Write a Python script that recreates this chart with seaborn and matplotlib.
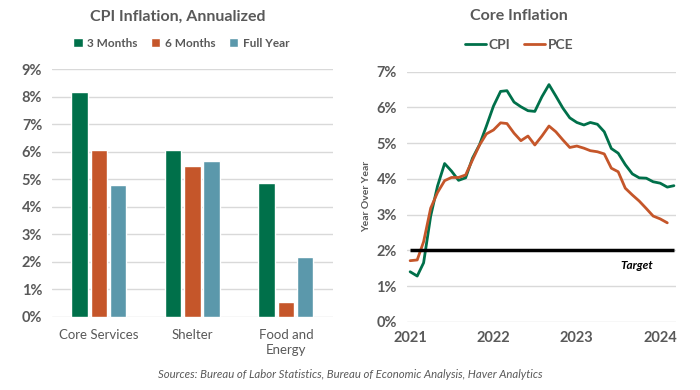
import seaborn as sns
import pandas as pd
import matplotlib.pyplot as plt
from matplotlib.patches import Patch
from matplotlib.lines import Line2D

# Данные: левый график (CPI, annualized)
categories = ['Core Services', 'Shelter', 'Food and\nEnergy']
periods = ['3 Months', '6 Months', 'Full Year']
three_months = [8.16, 6.06, 4.85]
six_months = [6.06, 5.48, 0.53]
full_year = [4.79, 5.64, 2.18]

# Данные: правый график (Core inflation, YoY)
cpi = [1.40, 1.28, 1.65, 2.96, 3.80, 4.43, 4.22, 3.96, 4.03, 4.58, 4.96, 5.48,
       6.04, 6.45, 6.47, 6.15, 6.02, 5.91, 5.89, 6.30, 6.64, 6.32, 5.98, 5.71,
       5.58, 5.51, 5.58, 5.53, 5.32, 4.85, 4.72, 4.40, 4.14, 4.03, 4.02, 3.92,
       3.88, 3.77, 3.81]
pce = [1.71, 1.73, 2.24, 3.18, 3.62, 3.95, 4.04, 4.04, 4.11, 4.53, 4.95, 5.26,
       5.37, 5.57, 5.55, 5.28, 5.07, 5.20, 4.95, 5.20, 5.48, 5.32, 5.09, 4.88,
       4.92, 4.86, 4.79, 4.76, 4.70, 4.30, 4.20, 3.74, 3.55, 3.38, 3.17, 2.96,
       2.88, 2.77]
cpi_dates = pd.date_range('2021-01-01', periods=len(cpi), freq='MS')
pce_dates = pd.date_range('2021-01-01', periods=len(pce), freq='MS')
year_ticks = ['2021', '2022', '2023', '2024']
target = 2.0

colors = ['#00704A', '#C5562A', '#5B98AB']
gray = '#595959'

sns.set_style('white')
plt.rcParams['font.family'] = ['Lato', 'DejaVu Sans']

fig = plt.figure(figsize=(7, 3.9), dpi=100)
ax1 = fig.add_axes([0.0743, 0.188, 0.401, 0.635])
ax2 = fig.add_axes([0.581, 0.175, 0.385, 0.641])

# Левый график - столбцы
df = pd.DataFrame({
    'category': categories * 3,
    'period': [p for p in periods for _ in categories],
    'value': three_months + six_months + full_year,
})
sns.barplot(data=df, x='category', y='value', hue='period', palette=colors,
            width=0.615, gap=0.14, saturation=1, legend=False, ax=ax1)
ax1.set_ylim(0, 9)
ax1.set_xlim(-0.5, 2.5)
ax1.set_yticks(range(0, 10))
ax1.set_yticklabels([f'{v}%' for v in range(0, 10)], fontsize=10.5,
                    fontweight='bold', color=gray)
for lbl in ax1.get_xticklabels():
    lbl.set_linespacing(1.25)
ax1.tick_params(axis='x', labelsize=9.5, labelcolor=gray, length=0, pad=9)
ax1.tick_params(axis='y', length=0, pad=7)
ax1.set_xlabel('')
ax1.set_ylabel('')
ax1.grid(axis='y', color='#D9D9D9', linewidth=1)
ax1.set_axisbelow(True)
sns.despine(ax=ax1, left=True, bottom=True)

handles = [Patch(facecolor=c, label=p) for c, p in zip(colors, periods)]
fig.legend(handles=handles, loc='center', bbox_to_anchor=(0.259, 0.889), ncol=3,
           frameon=False, handlelength=0.8, handleheight=0.8, handletextpad=0.4,
           columnspacing=1.1, prop={'size': 8.5, 'weight': 'bold'}, labelcolor=gray)
fig.text(0.254, 0.958, 'CPI Inflation, Annualized', ha='center', va='center',
         fontsize=11.5, fontweight='bold', color=gray)

# Правый график - линии
sns.lineplot(x=cpi_dates, y=cpi, color=colors[0], linewidth=2, ax=ax2)
sns.lineplot(x=pce_dates, y=pce, color=colors[1], linewidth=2, ax=ax2)
ax2.hlines(target, cpi_dates[0], cpi_dates[-1], color='black', linewidth=2.5)
ax2.text(pd.Timestamp('2023-09-20'), 1.58, 'Target', ha='center', va='center',
         fontsize=8.5, fontweight='bold', fontstyle='italic', color='black')
ax2.set_ylim(0, 7)
ax2.set_xlim(pd.Timestamp('2020-12-17'), pd.Timestamp('2024-03-11'))
ax2.set_yticks(range(0, 8))
ax2.set_yticklabels([f'{v}%' for v in range(0, 8)], fontsize=10.5,
                    fontweight='bold', color=gray)
ax2.set_xticks([pd.Timestamp(f'{y}-01-01') for y in year_ticks])
ax2.set_xticklabels(year_ticks, fontsize=10.5, fontweight='bold', color=gray)
ax2.tick_params(length=0, pad=7)
ax2.set_xlabel('')
ax2.set_ylabel('Year Over Year', fontsize=7.5, fontweight='bold', color=gray,
               labelpad=4)
ax2.grid(axis='y', color='#D9D9D9', linewidth=1)
ax2.set_axisbelow(True)
sns.despine(ax=ax2, left=True, bottom=True)

line_handles = [Line2D([], [], color=colors[0], lw=2, label='CPI'),
                Line2D([], [], color=colors[1], lw=2, label='PCE')]
fig.legend(handles=line_handles, loc='center', bbox_to_anchor=(0.742, 0.885),
           ncol=2, frameon=False, handlelength=1.5, handletextpad=0.2,
           columnspacing=1.0, prop={'size': 10, 'weight': 'bold'}, labelcolor=gray)
fig.text(0.741, 0.958, 'Core Inflation', ha='center', va='center',
         fontsize=11.5, fontweight='bold', color=gray)

fig.text(0.501, 0.04,
         'Sources: Bureau of Labor Statistics, Bureau of Economic Analysis, Haver Analytics',
         ha='center', va='center', fontsize=8.2, fontstyle='italic', color=gray)

plt.savefig('out.png', dpi=100)
